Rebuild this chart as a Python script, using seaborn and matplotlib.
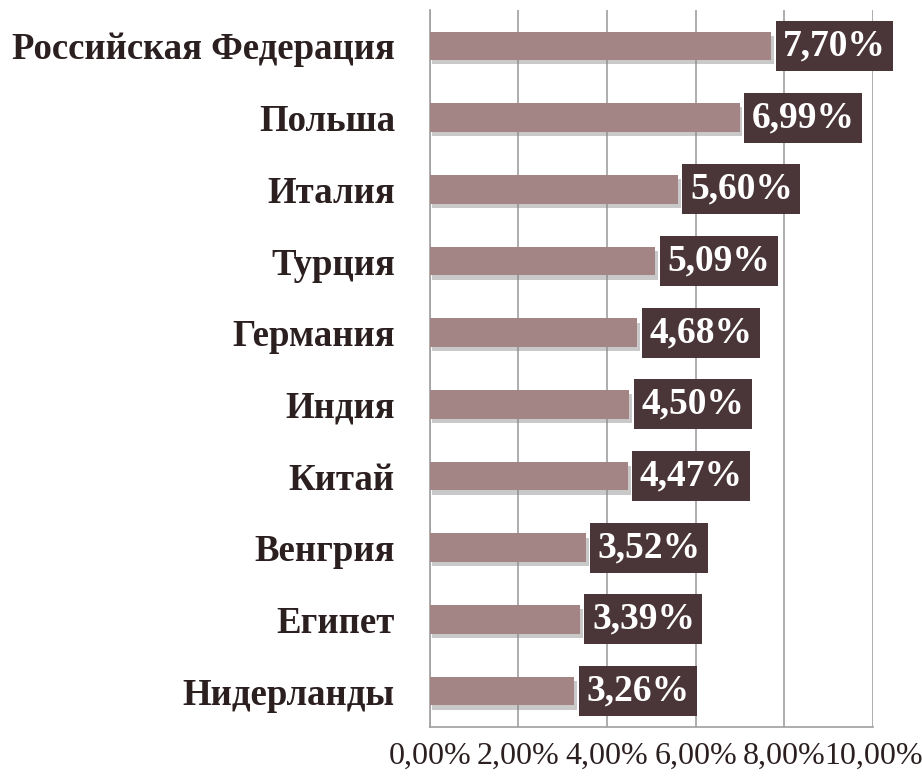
import matplotlib.pyplot as plt
import matplotlib.patheffects as pe
import pandas as pd
import seaborn as sns

countries = ["Российская Федерация", "Польша", "Италия", "Турция", "Германия",
             "Индия", "Китай", "Венгрия", "Египет", "Нидерланды"]
shares = [7.70, 6.99, 5.60, 5.09, 4.68, 4.50, 4.47, 3.52, 3.39, 3.26]
x_ticks = [0, 2, 4, 6, 8, 10]

BAR_COLOR = "#A38586"
BOX_COLOR = "#4A3538"
TEXT_COLOR = "#2B1F20"

df = pd.DataFrame({"country": countries, "share": shares})

sns.set_style("white")
plt.rcParams["font.family"] = ["Liberation Serif", "DejaVu Serif"]

fig = plt.figure(figsize=(9.22, 7.80), dpi=100)
ax = fig.add_axes([0.466, 0.068, 0.481, 0.919])

sns.barplot(data=df, x="share", y="country", color=BAR_COLOR, width=0.4,
            saturation=1, linewidth=0, ax=ax, zorder=3)
for patch in ax.patches:
    patch.set_path_effects([pe.SimplePatchShadow(offset=(2, -3), shadow_rgbFace="#888888", alpha=0.45),
                            pe.Normal()])

for i, v in enumerate(shares):
    ax.text(v + 0.27, i, f"{v:.2f}%".replace(".", ","), va="center", ha="left",
            fontsize=27, fontweight="bold", color="white", zorder=5,
            bbox=dict(boxstyle="square,pad=0.2", fc=BOX_COLOR, ec="none"))

ax.set_xlim(0, 10)
ax.set_ylim(len(countries) - 0.5, -0.5)
ax.set_xticks(x_ticks)
ax.set_xticklabels([f"{t:.2f}%".replace(".", ",") for t in x_ticks], fontsize=23, color=TEXT_COLOR)
ax.set_yticks(range(len(countries)))
ax.set_yticklabels(countries, fontsize=26.5, fontweight="bold", color=TEXT_COLOR)
ax.set_xlabel("")
ax.set_ylabel("")

ax.grid(axis="x", color="#A0A0A0", linewidth=1.2, zorder=0)
ax.grid(axis="y", visible=False)
for side in ["top", "right"]:
    ax.spines[side].set_visible(False)
for side in ["left", "bottom"]:
    ax.spines[side].set_color("#A0A0A0")
    ax.spines[side].set_linewidth(1.2)

# category boundary ticks on the left axis
ax.set_yticks([i - 0.5 for i in range(len(countries) + 1)], minor=True)
ax.tick_params(axis="y", which="major", length=0, pad=25)
ax.tick_params(axis="y", which="minor", length=6, color="#A0A0A0", width=1.2, direction="out")
ax.tick_params(axis="x", which="major", length=6, color="#A0A0A0", width=1.2, direction="out", pad=5)

fig.savefig("out.png", dpi=100)
